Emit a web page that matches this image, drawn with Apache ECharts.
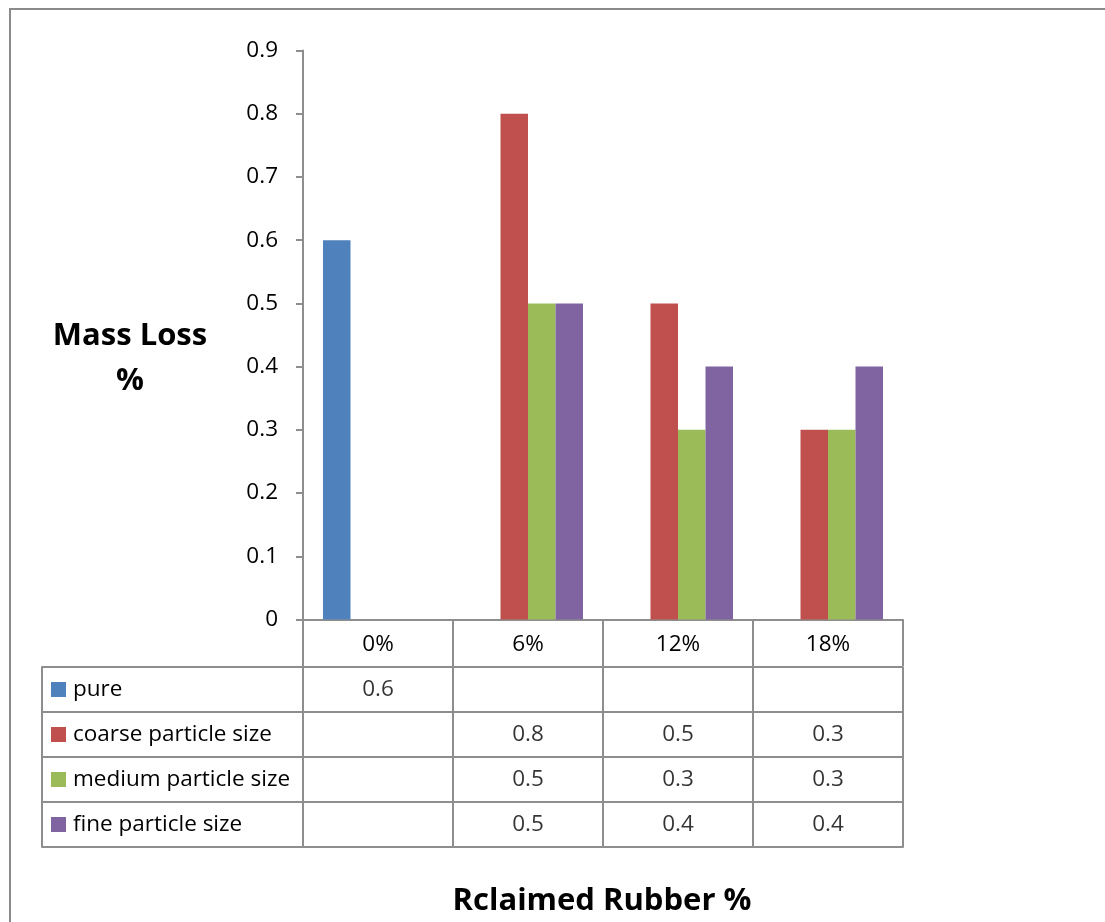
<!DOCTYPE html>
<html>
<head>
<meta charset="utf-8">
<title>Mass Loss vs Reclaimed Rubber</title>
<script src="https://cdn.jsdelivr.net/npm/echarts@6/dist/echarts.min.js"></script>
<style>
  html, body { margin: 0; padding: 0; background: #fff; }
  #chart { width: 1105px; height: 922px; }
</style>
</head>
<body>
<div id="chart"></div>
<script>
// Rubber content levels (categories) and mass loss per particle size
const categories = ['0%', '6%', '12%', '18%'];
const seriesNames = ['pure', 'coarse particle size', 'medium particle size', 'fine particle size'];
const pure = [0.6, null, null, null];
const coarse = [null, 0.8, 0.5, 0.3];
const medium = [null, 0.5, 0.3, 0.3];
const fine = [null, 0.5, 0.4, 0.4];
const yTicks = { min: 0, max: 0.9, step: 0.1 };

const colors = ['#4F81BD', '#C0504D', '#9BBB59', '#8064A2'];
const values = [pure, coarse, medium, fine];
const lineGray = '#8e8e8e';
const font = '"Open Sans", "Noto Sans", sans-serif';
const textSize = 22.5;

// Cells of the data table: one label per non-empty value
const tableCells = [];
values.forEach((arr, si) => {
  arr.forEach((v, ci) => {
    if (v !== null) tableCells.push([categories[ci], seriesNames[si], v]);
  });
});

// Rich text styles for the row headers (colour key + name)
const rich = { t: { fontSize: textSize, fontFamily: font, color: '#000', padding: [0, 0, 0, 7] } };
colors.forEach((c, i) => {
  rich['s' + i] = { width: 15, height: 15, backgroundColor: c };
});

const chart = echarts.init(document.getElementById('chart'));
chart.setOption({
  animation: false,
  backgroundColor: '#fff',
  color: colors,
  textStyle: { fontFamily: font },
  title: [
    {
      text: 'Mass Loss\n%',
      left: 125, top: 309, textAlign: 'center',
      textStyle: { fontSize: 31, fontWeight: 'bold', color: '#000', lineHeight: 45, fontFamily: font }
    },
    {
      text: 'Rclaimed Rubber %',
      left: 597, top: 881, textAlign: 'center',
      textStyle: { fontSize: 31, fontWeight: 'bold', color: '#000', fontFamily: font }
    }
  ],
  graphic: [
    {
      type: 'rect', silent: true,
      shape: { x: 10, y: 9, width: 1200, height: 1000 },
      style: { fill: 'none', stroke: '#8a8a8a', lineWidth: 2 }
    }
  ],
  grid: [
    { left: 303, right: 202, top: 50.5, bottom: 302.5 },
    { left: 303, right: 202, top: 667, height: 180 }
  ],
  xAxis: [
    {
      type: 'category', gridIndex: 0, data: categories,
      axisLine: { lineStyle: { color: lineGray, width: 2 } },
      axisTick: { show: true, interval: 0, length: 47, lineStyle: { color: lineGray, width: 2 } },
      axisLabel: { interval: 0, margin: 25, verticalAlign: 'middle', fontSize: textSize, color: '#000', fontFamily: font }
    },
    {
      type: 'category', gridIndex: 1, data: categories,
      axisLine: { lineStyle: { color: lineGray, width: 2 } },
      axisTick: { show: false },
      axisLabel: { show: false },
      splitLine: { show: true, interval: 0, lineStyle: { color: lineGray, width: 2 } }
    }
  ],
  yAxis: [
    {
      type: 'value', gridIndex: 0,
      min: yTicks.min, max: yTicks.max, interval: yTicks.step,
      axisLine: { show: true, lineStyle: { color: lineGray, width: 2 } },
      axisTick: { show: true, length: 7, lineStyle: { color: lineGray, width: 2 } },
      splitLine: { show: false },
      axisLabel: {
        margin: 25, fontSize: textSize, color: '#000', fontFamily: font,
        formatter: v => (v === 0 ? '0' : v.toFixed(1))
      }
    },
    {
      type: 'category', gridIndex: 1, data: seriesNames, inverse: true,
      axisLine: { show: true, lineStyle: { color: lineGray, width: 2 } },
      axisTick: { show: true, interval: 0, length: 261, lineStyle: { color: lineGray, width: 2 } },
      splitLine: { show: true, interval: 0, lineStyle: { color: lineGray, width: 2 } },
      axisLabel: {
        interval: 0, align: 'left', margin: 252,
        formatter: (value, index) => '{s' + index + '|}{t|' + value + '}',
        rich: rich
      }
    },
    {
      // left border of the table's row-header column
      type: 'category', gridIndex: 1, data: seriesNames, inverse: true,
      position: 'left', offset: 261,
      axisLine: { show: true, lineStyle: { color: lineGray, width: 2 } },
      axisTick: { show: false }, axisLabel: { show: false }, splitLine: { show: false }
    }
  ],
  series: [
    ...values.map((arr, i) => ({
      name: seriesNames[i], type: 'bar',
      xAxisIndex: 0, yAxisIndex: 0,
      data: arr, barWidth: 27.5, barGap: '0%',
      itemStyle: { color: colors[i] }
    })),
    {
      type: 'scatter', xAxisIndex: 1, yAxisIndex: 1,
      symbolSize: 0, silent: true,
      data: tableCells,
      label: {
        show: true, position: 'inside', fontSize: textSize, color: '#000', fontFamily: font,
        formatter: p => String(p.value[2])
      }
    }
  ]
});
</script>
</body>
</html>
